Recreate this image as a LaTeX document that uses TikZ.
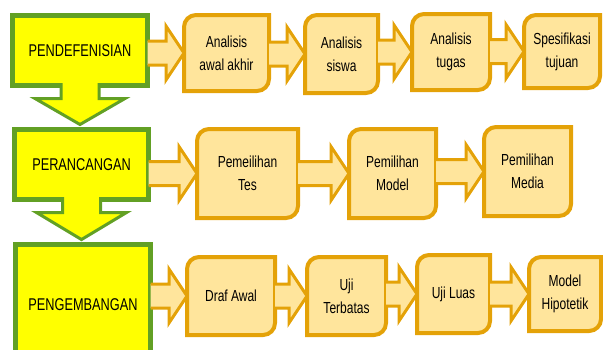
\documentclass[tikz,border=0pt]{standalone}
\usepackage{fontspec}
\setmainfont{Liberation Sans}[FakeStretch=0.75]
\usetikzlibrary{calc, backgrounds}

\definecolor{hijau}{RGB}{98,160,36}
\definecolor{kuning}{RGB}{255,255,0}
\definecolor{jingga}{RGB}{228,162,8}
\definecolor{krem}{RGB}{255,229,156}

\tikzset{
fase/.style={draw=hijau, line width=2.5pt, fill=kuning, outer sep=0pt, inner sep=0pt,
  font=\fontsize{8.5}{10}\selectfont},
langkah/.style={outer sep=0pt, inner sep=0pt, align=center,
  font=\fontsize{8}{11.5}\selectfont},
kotakgaya/.style={draw=jingga, line width=2pt, fill=krem, line join=miter},
panahgaya/.style={draw=jingga, line width=1.5pt, fill=krem, line join=miter},
turungaya/.style={draw=hijau, line width=1.5pt, fill=kuning, line join=miter},
}

% orange box, rounded top left and bottom right
\newcommand{\kotak}[1]{%
\draw[kotakgaya] (#1.north east) -- ([xshift=6pt]#1.north west)
arc[start angle=90, end angle=180, radius=6pt] -- (#1.south west)
-- ([xshift=-6pt]#1.south east) arc[start angle=270, end angle=360, radius=6pt] -- cycle;}

% block arrow to the right
\newcommand{\panah}[2]{%
\draw[panahgaya] let \p1=(#1.east), \p2=(#2.west) in
(\x1,\y2+6pt) -- (\x2-9pt,\y2+6pt) -- (\x2-9pt,\y2+13.5pt) -- (\x2,\y2)
-- (\x2-9pt,\y2-13.5pt) -- (\x2-9pt,\y2-6pt) -- (\x1,\y2-6pt);}

% block arrow down
\newcommand{\turun}[2]{%
\draw[turungaya] let \p1=(#1.south), \p2=(#2.north) in
(\x1-9.5pt,\y1+1.25pt) -- (\x1-9.5pt,\y1-6.5pt) -- (\x1-22.5pt,\y1-6.5pt) -- (\x1,\y2+2.5pt)
-- (\x1+22.5pt,\y1-6.5pt) -- (\x1+9.5pt,\y1-6.5pt) -- (\x1+9.5pt,\y1+1.25pt);}

\begin{document}
\begin{tikzpicture}[x=0.5pt, y=0.5pt]
\useasboundingbox (0,0) rectangle (603,-349);

% Define nodes
\path
(80,-50.5) node[fase, minimum width=67.5pt, minimum height=35pt] (def) {PENDEFENISIAN}
(81.5,-164.5) node[fase, minimum width=67pt, minimum height=35pt] (ran) {PERANCANGAN}
(83,-305) node[fase, minimum width=67.5pt, minimum height=60.5pt] (kem) {PENGEMBANGAN}
;

\path
(226.5,-53) node[langkah, minimum width=42.5pt, minimum height=38pt] (a1) {Analisis\\awal akhir}
(341.5,-54) node[langkah, minimum width=36.5pt, minimum height=39pt] (a2) {Analisis\\siswa}
(451,-52) node[langkah, minimum width=39pt, minimum height=38pt] (a3) {Analisis\\tugas}
(562,-51.5) node[langkah, minimum width=38pt, minimum height=36.5pt] (a4) {Spesifikasi\\tujuan}
(247.5,-173.5) node[langkah, minimum width=50.5pt, minimum height=44.5pt] (b1) {Pemeilihan\\Tes}
(392.5,-173.5) node[langkah, minimum width=43.5pt, minimum height=44.5pt] (b2) {Pemilihan\\Model}
(527.5,-171.5) node[langkah, minimum width=43.5pt, minimum height=44.5pt] (b3) {Pemilihan\\Media}
(231,-296) node[langkah, minimum width=44pt, minimum height=39pt] (c1) {Draf Awal}
(346.5,-296) node[langkah, minimum width=39.5pt, minimum height=39pt] (c2) {Uji\\Terbatas}
(453.5,-294) node[langkah, minimum width=36.5pt, minimum height=39pt] (c3) {Uji Luas}
(565,-294) node[langkah, minimum width=36pt, minimum height=37pt] (c4) {Model\\Hipotetik}
;

% Boxes
\begin{scope}[on background layer]
\foreach \n in {a1,a2,a3,a4,b1,b2,b3,c1,c2,c3,c4} {\kotak{\n}}
\end{scope}

% Arrows
\panah{def}{a1} \panah{a1}{a2} \panah{a2}{a3} \panah{a3}{a4}
\panah{ran}{b1} \panah{b1}{b2} \panah{b2}{b3}
\panah{kem}{c1} \panah{c1}{c2} \panah{c2}{c3} \panah{c3}{c4}
\turun{def}{ran} \turun{ran}{kem}

\end{tikzpicture}
\end{document}
